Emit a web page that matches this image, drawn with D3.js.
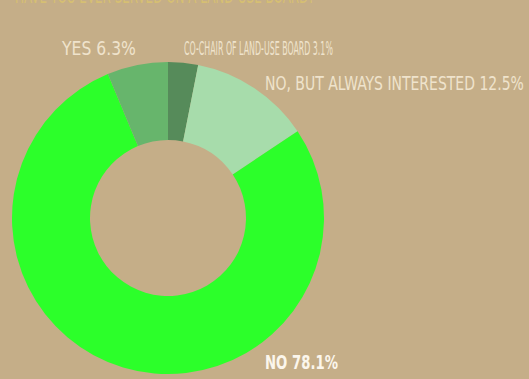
<!DOCTYPE html>
<html>
<head>
<meta charset="utf-8">
<script src="https://cdn.jsdelivr.net/npm/d3@7"></script>
<style>
  html, body { margin: 0; padding: 0; background: #c5ae88; }
  svg { display: block; }
  text { font-family: "DejaVu Sans Condensed", "DejaVu Sans", sans-serif; }
</style>
</head>
<body>
<svg id="chart" width="529" height="379"></svg>
<script>
// Survey answers, in drawing order clockwise from 12 o'clock
const categories = [
  "CO-CHAIR OF LAND-USE BOARD",
  "NO, BUT ALWAYS INTERESTED",
  "NO",
  "YES"
];
const values = [3.1, 12.5, 78.1, 6.3];
const valueLabels = ["3.1%", "12.5%", "78.1%", "6.3%"];
const colors = ["#568b5a", "#a7dcab", "#2cff2a", "#67b56c"];

// Label placement (text box left edge / baseline / target width)
const labelLayout = [
  { x: 184, y: 55, w: 149, size: 19, fill: "#efe3cc", weight: "normal" },
  { x: 265, y: 90, w: 259, size: 19, fill: "#efe3cc", weight: "normal" },
  { x: 265, y: 369, w: 73, size: 20, fill: "#fbf6ec", weight: "bold" },
  { x: 62, y: 55, w: 74, size: 19, fill: "#efe3cc", weight: "normal" }
];

const svg = d3.select("#chart");
const W = 529, H = 379;

svg.append("rect").attr("width", W).attr("height", H).attr("fill", "#c5ae88");

// Squeeze a text horizontally so it spans the given width
function fitWidth(sel, x, y, w) {
  sel.attr("x", 0).attr("y", 0);
  const natural = sel.node().getComputedTextLength();
  sel.attr("transform", `translate(${x},${y}) scale(${w / natural},1)`);
}

// Title running off the top edge
const title = svg.append("text")
  .attr("font-size", 22)
  .attr("fill", "#d6bf73")
  .text("HAVE YOU EVER SERVED ON A LAND-USE BOARD?");
fitWidth(title, 15, 3, 300);

const cx = 168, cy = 218, outerR = 156, innerR = 78;

const pie = d3.pie().sort(null).value(d => d);
const arc = d3.arc().innerRadius(innerR).outerRadius(outerR);

const g = svg.append("g").attr("transform", `translate(${cx},${cy})`);
g.selectAll("path")
  .data(pie(values))
  .join("path")
  .attr("d", arc)
  .attr("fill", (d, i) => colors[i]);

svg.append("g").selectAll("text")
  .data(categories)
  .join("text")
  .attr("font-size", (d, i) => labelLayout[i].size)
  .attr("font-weight", (d, i) => labelLayout[i].weight)
  .attr("fill", (d, i) => labelLayout[i].fill)
  .text((d, i) => `${d} ${valueLabels[i]}`)
  .each(function(d, i) {
    const L = labelLayout[i];
    fitWidth(d3.select(this), L.x, L.y, L.w);
  });
</script>
</body>
</html>
